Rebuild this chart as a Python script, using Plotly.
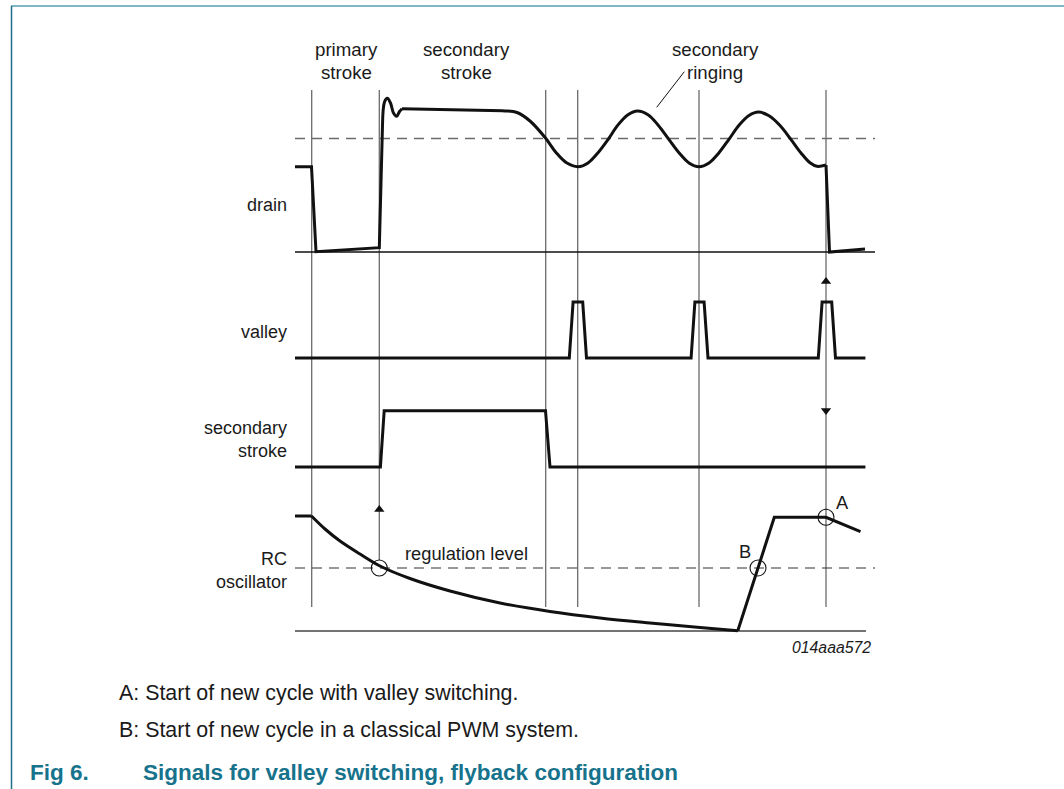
import plotly.graph_objects as go

# ---------------- data (diagram coordinates: x = time axis units, y = level units, y grows downward) -------------
# drain waveform
drain_sharp_x = [295, 311.5, 316, 379.3, 382.5]
drain_sharp_y = [166.7, 166.7, 251.7, 247.7, 125]
drain_overshoot_x = [382.5, 384.5, 387.3, 390.5, 393.5, 396.7, 399.5, 402]
drain_overshoot_y = [125, 102, 98.3, 103, 113, 116.3, 111.5, 108.7]
drain_flat_x = [402, 490]
drain_flat_y = [108.7, 110.5]
drain_ring_x = [490, 505, 517, 530, 545.7, 556, 566.5, 578, 588, 598, 608.5, 618, 628, 637.5,
                648, 658, 668.5, 679, 689, 699, 709, 719, 729.3, 739, 749, 758.5, 769, 780, 790.5,
                801, 810, 817, 826]
drain_ring_y = [110.5, 110.9, 112.5, 121, 138.3, 152.5, 162.8, 166.7, 162.9, 152.7, 138.8, 124.9, 114.7, 111,
                114.7, 124.9, 138.8, 152.7, 162.9, 166.7, 162.9, 152.7, 138.8, 125.3, 115.5, 112, 115.8, 125.5, 138.8,
                153, 162.8, 166.3, 165]
drain_end_x = [826, 829.5, 865]
drain_end_y = [165, 252, 249]

# valley pulses
valley_x = [295, 569.3, 573.1, 582.7, 586.5, 691.1, 694.9, 704.1, 708, 818.3, 822.1, 831.7, 835.5, 865.4]
valley_y = [358, 358, 302, 302, 358, 358, 302, 302, 358, 358, 302, 302, 358, 358]

# secondary stroke
ss_x = [295, 380.4, 384.2, 545.5, 550, 865.4]
ss_y = [467, 467, 410.7, 410.7, 467, 467]

# RC oscillator
rc_start_x = [295, 311.5]
rc_start_y = [516, 516]
rc_decay_x = [311.5, 325, 340, 360, 380, 410, 450, 500, 550, 600, 650, 700, 737.8]
rc_decay_y = [516, 529, 541, 554, 566, 578.5, 591, 603, 611.5, 618, 623, 627.5, 630.7]
rc_rise_x = [737.8, 774.3, 826, 860.5]
rc_rise_y = [630.7, 517.3, 517.3, 531.7]

# reference levels / markers
event_x = [311.7, 379.3, 545.7, 577.7, 699, 826]
event_top = 90
event_bottom = 607
drain_base_y = 252
ringing_mid_y = 138.5
regulation_y = 568
rc_base_y = 631
circle_x = [379.3, 758, 826]
circle_y = [568, 568, 517.3]

FONT = "Liberation Sans, Arial, Helvetica, sans-serif"
BLACK = "#111111"
GRAY = "#6b6b6b"
TEAL = "#17738c"

fig = go.Figure()


def line(x, y, color=BLACK, width=3, dash=None, shape="linear"):
    fig.add_trace(go.Scatter(x=x, y=y, mode="lines", hoverinfo="skip", showlegend=False,
                             line=dict(color=color, width=width, dash=dash, shape=shape, smoothing=1)))


# frame
line([11, 1064], [6, 6], color="#7fb7c6", width=2)
line([11.5, 11.5], [6, 789], color="#1f6f86", width=1.5)

# vertical event lines
for ex in event_x:
    bottom = event_bottom if ex != 379.3 else 560
    line([ex, ex], [event_top, bottom], color=GRAY, width=1.3)

# baselines and dashed levels
line([295, 875], [drain_base_y, drain_base_y], color=BLACK, width=1.4)
line([295, 875], [ringing_mid_y, ringing_mid_y], color=GRAY, width=1.4, dash="10px,7px")
line([295, 875], [regulation_y, regulation_y], color="#333333", width=1.2, dash="10px,7px")
line([295, 866], [rc_base_y, rc_base_y], color="#444444", width=1.4)

# ringing annotation leader
line([656.7, 684.3], [107.3, 71.7], color=BLACK, width=1)

# drain
line(drain_sharp_x, drain_sharp_y)
line(drain_overshoot_x, drain_overshoot_y, shape="spline")
line(drain_flat_x, drain_flat_y)
line(drain_ring_x, drain_ring_y, shape="spline")
line(drain_end_x, drain_end_y)

# valley
line(valley_x, valley_y)
# secondary stroke
line(ss_x, ss_y)
# RC oscillator
line(rc_start_x, rc_start_y)
line(rc_decay_x, rc_decay_y, shape="spline")
line(rc_rise_x, rc_rise_y)

# circles
fig.add_trace(go.Scatter(x=circle_x, y=circle_y, mode="markers", hoverinfo="skip", showlegend=False,
                         marker=dict(symbol="circle-open", size=16, color=BLACK, line=dict(width=1.1, color=BLACK))))
# arrowheads
fig.add_trace(go.Scatter(x=[826, 379.3], y=[281.5, 509.5], mode="markers", hoverinfo="skip", showlegend=False,
                         marker=dict(symbol="triangle-up", size=9, color=BLACK)))
fig.add_trace(go.Scatter(x=[826], y=[410.5], mode="markers", hoverinfo="skip", showlegend=False,
                         marker=dict(symbol="triangle-down", size=9, color=BLACK)))


def text(x, y, s, size=18.7, anchor="center", color="#1a1a1a", bold=False, italic=False):
    fig.add_annotation(x=x, y=y, text=s, showarrow=False, xanchor=anchor, yanchor="middle",
                       font=dict(family=FONT, size=size, color=color,
                                 weight="bold" if bold else "normal",
                                 style="italic" if italic else "normal"))


# top labels
text(346, 49, "primary")
text(346, 72, "stroke")
text(466, 49, "secondary")
text(466, 72, "stroke")
text(715, 49, "secondary")
text(715, 72, "ringing")

# left labels
text(289, 205, "drain", size=18, anchor="right")
text(289, 332, "valley", size=18, anchor="right")
text(289, 428, "secondary", size=18, anchor="right")
text(289, 451, "stroke", size=18, anchor="right")
text(289, 559, "RC", size=18, anchor="right")
text(289, 582, "oscillator", size=18, anchor="right")

text(466.5, 553, "regulation level", size=18.3)
text(745, 551, "B", size=18.3)
text(842, 502, "A", size=18.3)
text(873, 647, "014aaa572", size=15.8, anchor="right", italic=True)

# captions
text(117, 693, "A: Start of new cycle with valley switching.", size=21.4, anchor="left")
text(117, 730, "B: Start of new cycle in a classical PWM system.", size=21.4, anchor="left")
text(28, 772, "Fig 6.", size=22.5, anchor="left", color=TEAL, bold=True)
text(141, 772, "Signals for valley switching, flyback configuration", size=22.5, anchor="left", color=TEAL, bold=True)

fig.update_layout(
    width=1064, height=789,
    margin=dict(l=0, r=0, t=0, b=0),
    paper_bgcolor="white", plot_bgcolor="white",
    xaxis=dict(range=[0, 1064], visible=False, fixedrange=True),
    yaxis=dict(range=[789, 0], visible=False, fixedrange=True),
)

fig.write_html("out.html", config={"displayModeBar": False},
               post_script="document.body.style.margin='0';document.body.style.overflow='hidden';")
